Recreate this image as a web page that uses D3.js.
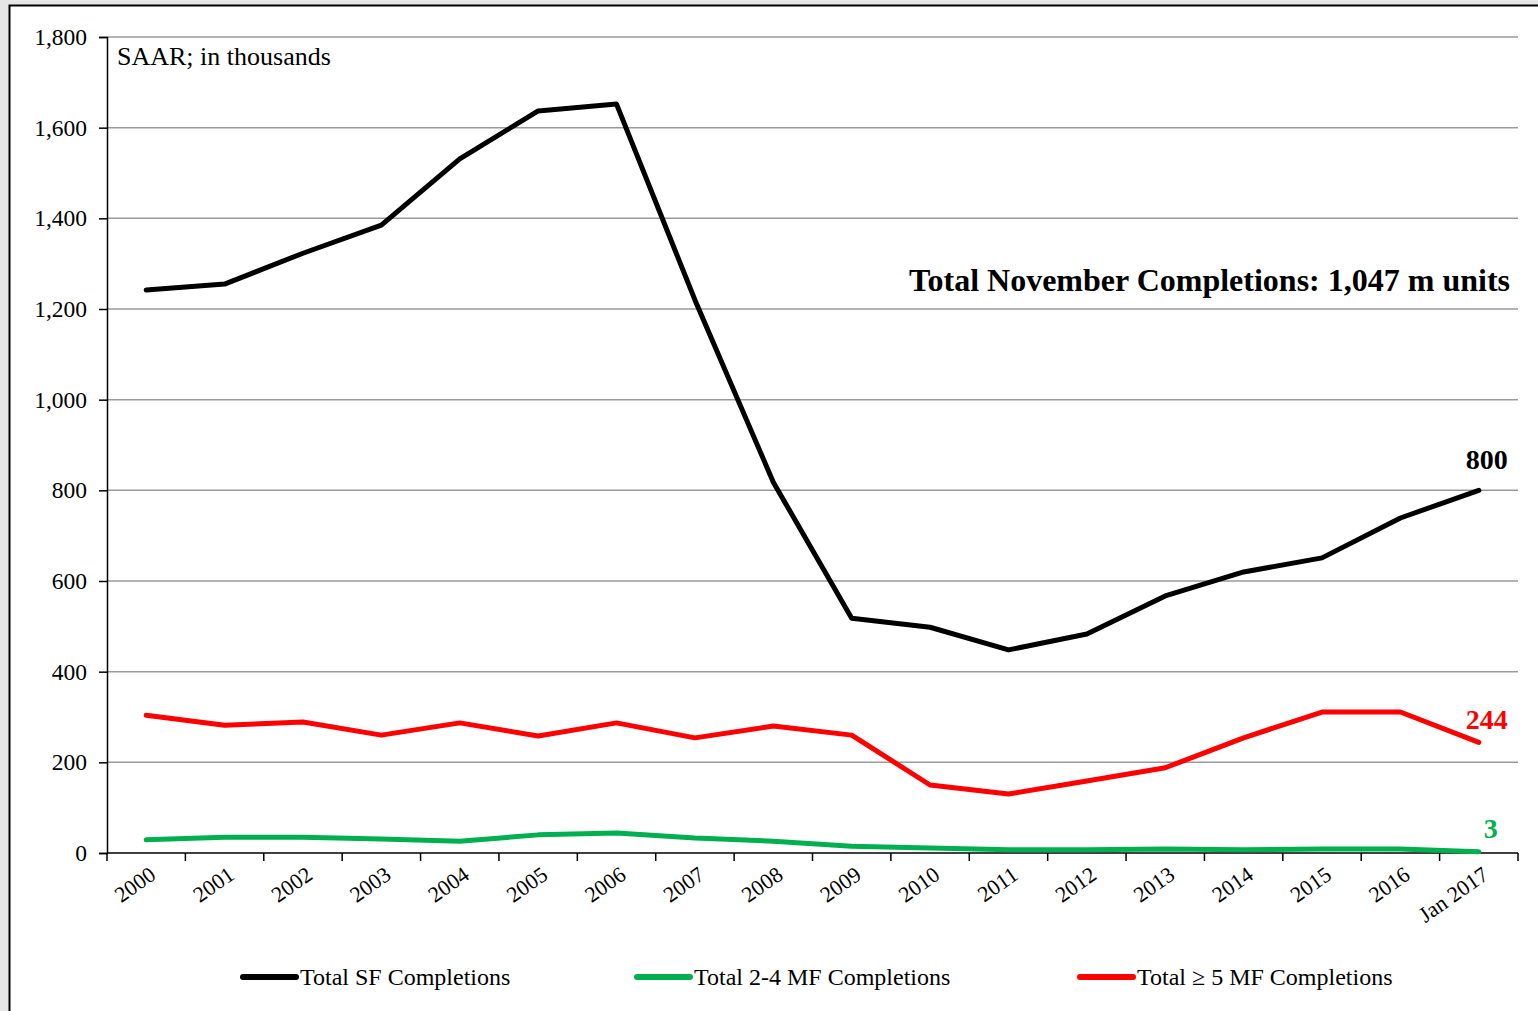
<!DOCTYPE html>
<html>
<head>
<meta charset="utf-8">
<script src="https://cdn.jsdelivr.net/npm/d3@7"></script>
<style>
  body { margin: 0; background: #e6e6e6; }
  svg { display: block; }
</style>
</head>
<body>
<div id="chart"></div>
<script>
// categories and series (SAAR, thousands)
var years = ["2000", "2001", "2002", "2003", "2004", "2005", "2006", "2007", "2008",
    "2009", "2010", "2011", "2012", "2013", "2014", "2015", "2016", "Jan 2017"];
var sfCompletions = [1242, 1255, 1323, 1385, 1531, 1637, 1652, 1220, 818,
    518, 498, 448, 483, 567, 620, 651, 739, 800];
var mf24Completions = [29, 35, 35, 31, 26, 40, 44, 33, 26,
    15, 11, 7, 7, 9, 7, 9, 9, 3];
var mf5Completions = [304, 282, 289, 260, 287, 258, 287, 254, 280,
    260, 150, 130, 159, 188, 254, 311, 311, 244];
var yTicks = [0, 200, 400, 600, 800, 1000, 1200, 1400, 1600, 1800];

var seriesList = [
    {name: "Total SF Completions", values: sfCompletions, color: "#000000"},
    {name: "Total 2-4 MF Completions", values: mf24Completions, color: "#00b050"},
    {name: "Total \u2265 5 MF Completions", values: mf5Completions, color: "#ff0000"}
];

var W = 1538, H = 1011;
var margin = {top: 37, right: 20, bottom: 158, left: 107},
    width = W - margin.left - margin.right,
    height = H - margin.top - margin.bottom;

var root = d3.select("#chart").append("svg")
    .attr("width", W)
    .attr("height", H)
    .style("font-family", "'Liberation Serif', 'Times New Roman', serif");

// frame
root.append("rect")
    .attr("x", 9.5).attr("y", 5.5)
    .attr("width", W + 20).attr("height", H + 20)
    .attr("fill", "#ffffff")
    .attr("stroke", "#000").attr("stroke-width", 2);

var svg = root.append("g")
    .attr("transform", "translate(" + margin.left + "," + margin.top + ")");

var x = d3.scaleBand().domain(years).range([0, width]);
var y = d3.scaleLinear().domain([0, 1800]).range([height, 0]);

// gridlines
svg.append("g")
    .selectAll("line")
    .data(yTicks.slice(1))
    .enter().append("line")
    .attr("x1", 0).attr("x2", width)
    .attr("y1", function (d) { return y(d); })
    .attr("y2", function (d) { return y(d); })
    .attr("stroke", "#9a9a9a")
    .attr("stroke-width", 1.5);

// y axis
var yAxis = svg.append("g")
    .call(d3.axisLeft(y).tickValues(yTicks).tickSize(8).tickPadding(12)
        .tickFormat(d3.format(",")));
yAxis.select(".domain").attr("stroke", "#000").attr("stroke-width", 1.5);
yAxis.selectAll(".tick line").attr("stroke", "#000").attr("stroke-width", 1.5);
yAxis.selectAll(".tick text")
    .attr("font-size", 23.5)
    .attr("font-family", "'Liberation Serif', serif")
    .attr("fill", "#000");

// x axis: ticks at category boundaries
var xAxisG = svg.append("g").attr("transform", "translate(0," + height + ")");
xAxisG.append("line")
    .attr("x1", 0).attr("x2", width)
    .attr("stroke", "#000").attr("stroke-width", 1.5);
var bounds = years.map(function (d) { return x(d); }).concat([width]);
xAxisG.selectAll(".xtick")
    .data(bounds)
    .enter().append("line")
    .attr("class", "xtick")
    .attr("x1", function (d) { return d; })
    .attr("x2", function (d) { return d; })
    .attr("y1", 0).attr("y2", 8)
    .attr("stroke", "#000").attr("stroke-width", 1.5);
xAxisG.selectAll(".xlabel")
    .data(years)
    .enter().append("text")
    .attr("class", "xlabel")
    .attr("text-anchor", "end")
    .attr("font-size", 22)
    .attr("fill", "#000")
    .attr("transform", function (d) {
        return "translate(" + (x(d) + x.bandwidth() / 2 + 2) + ",12) rotate(-35)";
    })
    .attr("dy", "0.72em")
    .text(function (d) { return d; });

// lines
var line = d3.line()
    .x(function (d, i) { return x(years[i]) + x.bandwidth() / 2; })
    .y(function (d) { return y(d); });

svg.selectAll(".series")
    .data([seriesList[1], seriesList[2], seriesList[0]])
    .enter().append("path")
    .attr("class", "series")
    .attr("fill", "none")
    .attr("stroke", function (d) { return d.color; })
    .attr("stroke-width", 5)
    .attr("stroke-linejoin", "round")
    .attr("stroke-linecap", "round")
    .attr("d", function (d) { return line(d.values); });

// end labels
var lastX = x(years[years.length - 1]) + x.bandwidth() / 2;
var endLabels = [
    {v: sfCompletions[sfCompletions.length - 1], color: "#000", dx: 8, dy: -21},
    {v: mf5Completions[mf5Completions.length - 1], color: "#ff0000", dx: 8, dy: -13},
    {v: mf24Completions[mf24Completions.length - 1], color: "#00b050", dx: 12, dy: -14}
];
svg.selectAll(".endlabel")
    .data(endLabels)
    .enter().append("text")
    .attr("class", "endlabel")
    .attr("x", function (d) { return lastX + d.dx; })
    .attr("y", function (d) { return y(d.v) + d.dy; })
    .attr("text-anchor", "middle")
    .attr("font-size", 28)
    .attr("font-weight", "bold")
    .attr("fill", function (d) { return d.color; })
    .text(function (d) { return d3.format(",")(d.v); });

// annotations
svg.append("text")
    .attr("x", 10).attr("y", 28)
    .attr("font-size", 26)
    .attr("fill", "#000")
    .text("SAAR; in thousands");

svg.append("text")
    .attr("x", width - 8).attr("y", 254)
    .attr("text-anchor", "end")
    .attr("font-size", 32)
    .attr("font-weight", "bold")
    .attr("fill", "#000")
    .text("Total November Completions: 1,047 m units");

// legend
var legendX = [243, 637, 1080];
var legend = root.selectAll(".legend")
    .data(seriesList)
    .enter().append("g")
    .attr("class", "legend")
    .attr("transform", function (d, i) {
        return "translate(" + legendX[i] + ",977)";
    });
legend.append("line")
    .attr("x1", 0).attr("x2", 53)
    .attr("stroke", function (d) { return d.color; })
    .attr("stroke-width", 6)
    .attr("stroke-linecap", "round");
legend.append("text")
    .attr("x", 57)
    .attr("dy", "0.35em")
    .attr("font-size", 24)
    .attr("fill", "#000")
    .text(function (d) { return d.name; });
</script>
</body>
</html>
